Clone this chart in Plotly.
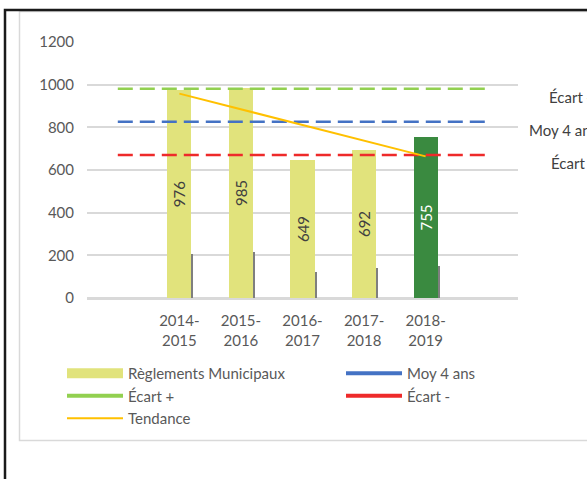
import plotly.graph_objects as go

# ---- data ----
slots = [" ", "2014-<br>2015", "2015-<br>2016", "2016-<br>2017", "2017-<br>2018", "2018-<br>2019", "  "]
seasons = slots[1:6]
reglements = [976, 985, 649, 692, 755]
secondary = [206, 214, 121, 140, 149]
tendance = [958, 885, 811, 738, 664]
ecart_plus = 981
moy_4_ans = 826
ecart_moins = 670

bar_colors = ["#e1e37c", "#e1e37c", "#e1e37c", "#e1e37c", "#3a8a40"]
label_colors = ["#404040", "#404040", "#404040", "#404040", "#ffffff"]

FONT = "Lato"
W, H = 587, 479
ML, MR, MT, MB = 87, 69, 42, 181
PW, PH = W - ML - MR, H - MT - MB


def px(xp):
    return (xp - ML) / PW


def py(yp):
    return (H - MB - yp) / PH


fig = go.Figure()

fig.add_trace(go.Bar(
    x=seasons, y=reglements, name="Règlements Municipaux",
    width=0.39, offset=-0.195,
    marker=dict(color=bar_colors, line=dict(width=0)),
    text=[str(v) for v in reglements], textposition="inside",
    insidetextanchor="middle", textangle=-90,
    textfont=dict(family=FONT, size=15, color=label_colors),
    showlegend=False,
))
fig.add_trace(go.Bar(
    x=seasons, y=secondary, width=0.033, offset=0.195,
    marker=dict(color="#7f7f7f", line=dict(width=0)),
    showlegend=False, hoverinfo="skip",
))
# legend swatch for the bars (wide rectangle like the original)
fig.add_trace(go.Scatter(
    x=[None], y=[None], mode="lines", name="Règlements Municipaux",
    line=dict(color="#e1e37c", width=11), legend="legend", legendrank=1,
))

dash = "15px,7px"
for val, col, name, lg, rank in [
    (ecart_plus, "#92d050", "Écart +", "legend", 2),
    (moy_4_ans, "#4472c4", "Moy 4 ans", "legend2", 1),
    (ecart_moins, "#ee2a2a", "Écart -", "legend2", 2),
]:
    fig.add_trace(go.Scatter(
        x=slots, y=[val] * len(slots), mode="lines",
        line=dict(color=col, width=2.5, dash=dash),
        showlegend=False, hoverinfo="skip",
    ))
    fig.add_trace(go.Scatter(
        x=[None], y=[None], mode="lines", name=name,
        line=dict(color=col, width=4), legend=lg, legendrank=rank,
    ))

fig.add_trace(go.Scatter(
    x=seasons, y=tendance, mode="lines", name="Tendance",
    line=dict(color="#ffc000", width=2), legend="legend", legendrank=3,
))

# right-side labels
for val, txt, xp in [(ecart_plus, "Écart +", 547), (moy_4_ans, "Moy 4 ans", 527), (ecart_moins, "Écart -", 549)]:
    fig.add_annotation(
        x=px(xp), xref="paper", y=val, yref="y", text=txt, showarrow=False,
        xanchor="left", yanchor="middle", yshift=-8,
        font=dict(family=FONT, size=15, color="#404040"),
    )

# frames
fig.add_shape(type="rect", xref="paper", yref="paper",
              x0=px(19.5), x1=px(640), y0=py(440.5), y1=py(11.5),
              line=dict(color="#d9d9d9", width=1.5), layer="below")
fig.add_shape(type="rect", xref="paper", yref="paper",
              x0=px(5), x1=px(640), y0=py(520), y1=py(10),
              line=dict(color="#1a1a1a", width=2.5), layer="above")

legend_common = dict(
    orientation="v", xanchor="left", yanchor="top",
    font=dict(family=FONT, size=15, color="#595959"),
    bgcolor="rgba(0,0,0,0)", itemwidth=56, tracegroupgap=0,
    traceorder="normal",
)

fig.update_layout(
    width=W, height=H,
    margin=dict(l=ML, r=MR, t=MT, b=MB, pad=0),
    paper_bgcolor="white", plot_bgcolor="white",
    barmode="overlay", bargap=0,
    font=dict(family=FONT, size=15, color="#595959"),
    showlegend=True,
    legend=dict(x=px(62), y=py(357), **legend_common),
    legend2=dict(x=px(341), y=py(357), **legend_common),
    xaxis=dict(
        type="category", categoryorder="array", categoryarray=slots,
        range=[-0.5, 6.5], showgrid=False, zeroline=False, showline=False,
        ticks="", tickfont=dict(family=FONT, size=15, color="#595959"),
        ticklabelstandoff=12, fixedrange=True,
    ),
    yaxis=dict(
        range=[0, 1200], dtick=200, showgrid=True, gridcolor="#d9d9d9",
        gridwidth=1.5, zeroline=True, zerolinecolor="#d9d9d9", zerolinewidth=2.5,
        showline=False, ticks="", tickfont=dict(family=FONT, size=15, color="#595959"),
        ticklabelstandoff=12, fixedrange=True,
    ),
)

fig.write_html(
    "out.html",
    config={"displayModeBar": False},
    post_script="document.body.style.margin='0';document.body.style.padding='0';",
)
